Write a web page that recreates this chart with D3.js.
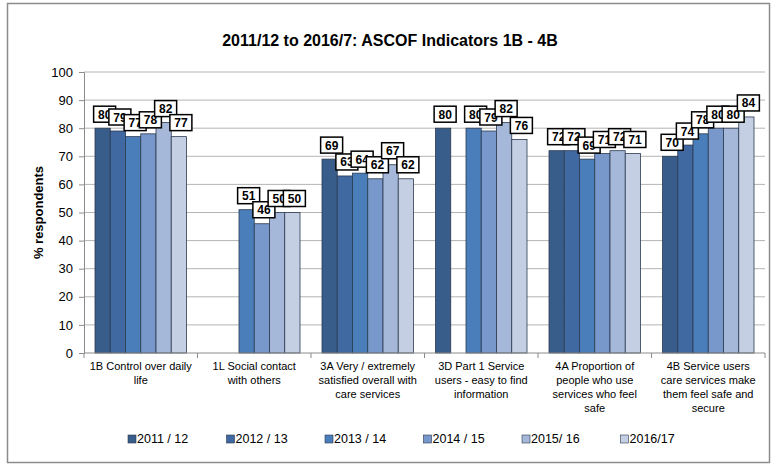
<!DOCTYPE html>
<meta charset="utf-8">
<script src="https://d3js.org/d3.v7.min.js"></script>
<style>
  body { margin: 0; background: #fff; }
  text { font-family: "Liberation Sans", Arial, sans-serif; }
</style>
<div id="chart"></div>
<script>

// indicator categories (x axis), wrapped as in the original
var categories = ["1B", "1L", "3A", "3D", "4A", "4B"];
var categoryLines = [
  ["1B Control over daily", "life"],
  ["1L Social contact", "with others"],
  ["3A Very / extremely", "satisfied overall with", "care services"],
  ["3D Part 1 Service", "users - easy to find", "information"],
  ["4A Proportion of", "people who use", "services who feel", "safe"],
  ["4B Service users", "care services make", "them feel safe and", "secure"]
];

// survey years (series)
var years = ["2011 / 12", "2012 / 13", "2013 / 14", "2014 / 15", "2015/ 16", "2016/17"];

// % respondents per year, one value per category (null = no data)
var y2011 = [80, null, 69, 80, 72, 70];
var y2012 = [79, null, 63, null, 72, 74];
var y2013 = [77, 51, 64, 80, 69, 78];
var y2014 = [78, 46, 62, 79, 71, 80];
var y2015 = [82, 50, 67, 82, 72, 80];
var y2016 = [77, 50, 62, 76, 71, 84];

var yTicks = [0, 10, 20, 30, 40, 50, 60, 70, 80, 90, 100];

var seriesValues = [y2011, y2012, y2013, y2014, y2015, y2016];
var colors = ["#395d8a", "#3f69a0", "#4a7ebb", "#7898cb", "#a5b8d9", "#c4cfe4"];

var W = 774, H = 469;
var margin = {top: 72, right: 9, bottom: 116, left: 84},
    width = W - margin.left - margin.right,
    height = H - margin.top - margin.bottom;

var root = d3.select("#chart").append("svg")
    .attr("width", W)
    .attr("height", H);

// outer chart border
root.append("rect")
    .attr("x", 7.5).attr("y", 3.5)
    .attr("width", 762).attr("height", 459)
    .attr("fill", "none")
    .attr("stroke", "#8c8c8c")
    .attr("stroke-width", 1.5);

root.append("text")
    .attr("x", 390).attr("y", 46)
    .attr("text-anchor", "middle")
    .style("font-size", "16px")
    .style("font-weight", "bold")
    .text("2011/12 to 2016/7: ASCOF Indicators 1B - 4B");

var svg = root.append("g")
    .attr("transform", "translate(" + margin.left + "," + margin.top + ")");

var x0 = d3.scaleBand()
    .domain(categories)
    .range([0, width])
    .padding(0);

var x1 = d3.scaleBand()
    .domain(d3.range(years.length))
    .range([11, x0.bandwidth() - 11])
    .padding(0);

var y = d3.scaleLinear()
    .domain([0, 100])
    .range([height, 0]);

// gridlines
svg.append("g")
  .selectAll("line")
  .data(yTicks.slice(1))
  .enter()
  .append("line")
    .attr("x1", 0).attr("x2", width)
    .attr("y1", function(d) { return y(d); })
    .attr("y2", function(d) { return y(d); })
    .attr("stroke", "#b4b4b4")
    .attr("stroke-width", 1);

// y axis
var yAxis = svg.append("g")
    .call(d3.axisLeft(y).tickValues(yTicks).tickSize(5).tickPadding(6));
yAxis.select(".domain").attr("stroke", "#8c8c8c");
yAxis.selectAll(".tick line").attr("stroke", "#8c8c8c");
yAxis.selectAll(".tick text")
    .style("font-size", "13px")
    .attr("fill", "#000")
    .style("font-family", "Liberation Sans, Arial, sans-serif");

root.append("text")
    .attr("transform", "translate(43," + (margin.top + height / 2) + ") rotate(-90)")
    .attr("text-anchor", "middle")
    .style("font-size", "13px")
    .style("font-weight", "bold")
    .text("% respondents");

// bars
var groups = svg.selectAll(".grp")
  .data(categories)
  .enter()
  .append("g")
    .attr("class", "grp")
    .attr("transform", function(d) { return "translate(" + x0(d) + ",0)"; });

groups.selectAll("rect")
  .data(function(d, ci) {
    return seriesValues.map(function(s, si) { return {si: si, v: s[ci]}; })
      .filter(function(e) { return e.v != null; });
  })
  .enter()
  .append("rect")
    .attr("x", function(d) { return x1(d.si); })
    .attr("y", function(d) { return y(d.v); })
    .attr("width", x1.bandwidth())
    .attr("height", function(d) { return height - y(d.v); })
    .attr("fill", function(d) { return colors[d.si]; })
    .attr("stroke", "#2b3a4f")
    .attr("stroke-width", 0.8);

// x axis
var xAxis = svg.append("g")
    .attr("transform", "translate(0," + height + ")");
xAxis.append("line")
    .attr("x1", 0).attr("x2", width)
    .attr("stroke", "#8c8c8c");
xAxis.selectAll(".tk")
  .data(d3.range(categories.length + 1))
  .enter()
  .append("line")
    .attr("x1", function(i) { return i * x0.bandwidth(); })
    .attr("x2", function(i) { return i * x0.bandwidth(); })
    .attr("y1", 0).attr("y2", 5)
    .attr("stroke", "#8c8c8c");

xAxis.selectAll(".lbl")
  .data(categories)
  .enter()
  .append("text")
    .attr("text-anchor", "middle")
    .attr("x", function(d) { return x0(d) + x0.bandwidth() / 2; })
    .attr("y", 17)
    .style("font-size", "11px")
  .each(function(d, i) {
    var t = d3.select(this);
    categoryLines[i].forEach(function(line, k) {
      t.append("tspan")
        .attr("x", x0(d) + x0.bandwidth() / 2)
        .attr("dy", k === 0 ? 0 : 14)
        .text(line);
    });
  });

// data labels (boxed), drawn after all bars
groups.each(function(d, ci) {
  var g = d3.select(this);
  seriesValues.forEach(function(s, si) {
    var v = s[ci];
    if (v == null) return;
    var cx = x1(si) + x1.bandwidth() / 2 + 2;
    var by = y(v) - 6;
    var lg = g.append("g").attr("transform", "translate(" + cx + "," + by + ")");
    lg.append("rect")
      .attr("x", -11).attr("y", -16)
      .attr("width", 22).attr("height", 16)
      .attr("fill", "#fff")
      .attr("stroke", "#000")
      .attr("stroke-width", 1.5);
    lg.append("text")
      .attr("x", 0).attr("y", -3.5)
      .attr("text-anchor", "middle")
      .style("font-size", "12px")
      .style("font-weight", "bold")
      .text(v);
  });
});

// legend
var legend = root.append("g")
    .attr("transform", "translate(128,443)");
var items = legend.selectAll("g")
  .data(years)
  .enter()
  .append("g")
    .attr("transform", function(d, i) { return "translate(" + (i * 98.5) + ",0)"; });
items.append("rect")
    .attr("x", 0).attr("y", -8)
    .attr("width", 8).attr("height", 8)
    .attr("fill", function(d, i) { return colors[i]; })
    .attr("stroke", "#2b3a4f")
    .attr("stroke-width", 0.6);
items.append("text")
    .attr("x", 9).attr("y", 0)
    .style("font-size", "12.5px")
    .text(function(d) { return d; });

</script>
